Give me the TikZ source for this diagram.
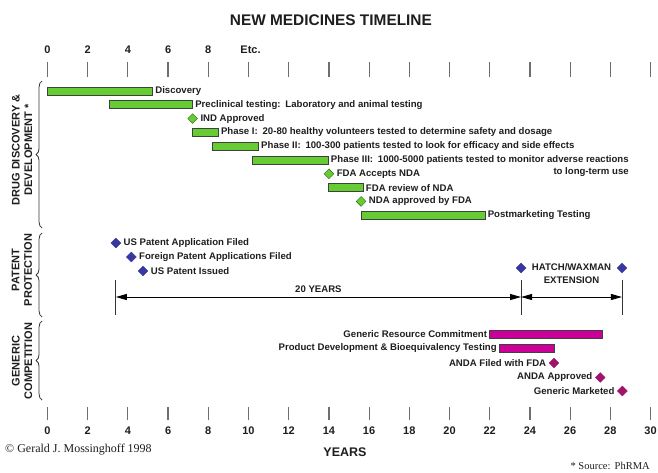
\documentclass[tikz,border=0pt]{standalone}
\usepackage{fontspec}
\setmainfont{Liberation Sans}
\newfontfamily\romana{Liberation Serif}
\usetikzlibrary{positioning,arrows.meta,shapes.geometric,decorations.pathreplacing}
\definecolor{verde}{RGB}{102,204,51}
\definecolor{bordeverde}{RGB}{50,100,30}
\definecolor{azul}{RGB}{55,55,160}
\definecolor{fucsia}{RGB}{204,0,153}
\definecolor{morado}{RGB}{160,20,110}
\definecolor{gristick}{RGB}{110,110,110}
\definecolor{texto}{RGB}{30,30,30}

\begin{document}
\begin{tikzpicture}[
  x=20.1pt, y=-1pt,
  font=\bfseries\fontsize{9.6}{11}\selectfont, text=texto,
  barra/.style={draw=black!75, line width=0.8pt, fill=verde},
  barrag/.style={draw=black!75, line width=0.8pt, fill=fucsia},
  rombo/.style={diamond, draw=bordeverde, fill=verde, inner sep=0pt,
                minimum size=10pt},
  rombop/.style={rombo, draw=azul, fill=azul},
  rombog/.style={rombo, draw=morado, fill=morado},
  rotulo/.style={anchor=west, inner sep=2.5pt},
  rotuloi/.style={anchor=east, inner sep=2.5pt},
  marca/.style={draw=gristick, line width=1.2pt},
  numero/.style={font=\bfseries\fontsize{11}{12}\selectfont},
  seccion/.style={rotate=90, align=center,
                  font=\bfseries\fontsize{11}{12.5}\selectfont},
  llave/.style={decorate, decoration={brace, amplitude=6pt},
                draw=black!80, line width=0.8pt},
  flecha/.style={{Triangle[length=11pt,width=6pt]}-{Triangle[length=11pt,width=6pt]},
                 line width=0.9pt},
  tope/.style={draw=black!80, line width=0.9pt},
]
\useasboundingbox (-2.363,0) rectangle (30.373,472);
% --- Titulo y ejes ---------------------------------------------------------
\node[font=\bfseries\fontsize{15.4}{17}\selectfont] (titulo) at (14.1,20)
  {NEW MEDICINES TIMELINE};
\foreach \t in {0,2,...,30} {
  \draw[marca] (\t,62) -- (\t,77);
  \draw[marca] (\t,407) -- (\t,420);
  \node[numero] (abajo\t) at (\t,431) {\t};
}
\foreach \t in {0,2,4,6,8}
  \node[numero] (arriba\t) at (\t,50) {\t};
\node[numero] (etc) at (10.1,50) {Etc.};
\node[font=\bfseries\fontsize{12.5}{14}\selectfont] (anos) at (14.8,452) {YEARS};
% --- Desarrollo del medicamento ---------------------------------------------
\foreach \a/\b/\fila/\txt in {
  0/5.23/0/Discovery,
  3.1/7.22/1/{Preclinical testing:\hspace{0.5em}Laboratory and animal testing},
  7.22/8.5/3/{Phase I:\hspace{0.5em}20-80 healthy volunteers tested to determine safety and dosage},
  8.2/10.5/4/{Phase II:\hspace{0.5em}100-300 patients tested to look for efficacy and side effects},
  10.2/13.97/5/{Phase III:\hspace{0.5em}1000-5000 patients tested to monitor adverse reactions},
  13.97/15.71/7/FDA review of NDA,
  15.6/21.77/9/Postmarketing Testing} {
  \draw[barra] (\a,91+13.8*\fila-4) rectangle (\b,91+13.8*\fila+4);
  \node[rotulo] (fase\fila) at (\b,91+13.8*\fila) {\txt};
}
\node[anchor=east, inner sep=2.5pt] (fase5b) at ([yshift=-12.5pt]fase5.east)
  {to long-term use};
\foreach \x/\fila/\txt in {7.22/2/IND Approved, 14/6/FDA Accepts NDA,
                           15.6/8/NDA approved by FDA} {
  \node[rombo] (hito\fila) at (\x,91+13.8*\fila) {};
  \node[rotulo] (fase\fila) at (hito\fila.east) {\txt};
}
% --- Proteccion de patente ---------------------------------------------------
\foreach \x/\y/\nom/\txt in {3.4/243/solus/US Patent Application Filed,
                             4.17/257/solext/Foreign Patent Applications Filed,
                             4.75/271/patus/US Patent Issued} {
  \node[rombop] (\nom) at (\x,\y) {};
  \node[rotulo] (t\nom) at (\nom.east) {\txt};
}
\node[rombop] (hw1) at (23.56,268) {};
\node[rombop] (hw2) at (28.58,268) {};
\node[align=center, inner sep=0pt, font=\bfseries\fontsize{9.6}{13}\selectfont]
  (hatch) at (26.07,273.5) {HATCH/WAXMAN\\EXTENSION};
\foreach \x in {3.4,23.56,28.58}
  \draw[tope] (\x,280) -- (\x,315);
\coordinate (ini) at (3.4,297);
\coordinate (fin) at (23.56,297);
\coordinate (ext) at (28.58,297);
\draw[flecha] (ini) -- node[above, inner sep=3.5pt] (veinte) {20 YEARS} (fin);
\draw[flecha] (fin) -- (ext);
% --- Competencia generica ------------------------------------------------------
\foreach \a/\b/\y/\txt [count=\i] in {
  22/27.6/334/Generic Resource Commitment,
  22.48/25.2/348.5/Product Development \& Bioequivalency Testing} {
  \draw[barrag] (\a,\y-4) rectangle (\b,\y+4);
  \node[rotuloi] (gen\i) at (\a,\y) {\txt};
}
\foreach \x/\y/\txt [count=\i] in {25.2/363/ANDA Filed with FDA,
                                  27.5/377.5/ANDA Approved,
                                  28.6/391/Generic Marketed} {
  \node[rombog] (anda\i) at (\x,\y) {};
  \node[rotuloi] (tanda\i) at (anda\i.west) {\txt};
}
% --- Llaves y secciones ----------------------------------------------------------
\draw[llave] (-0.27,228) -- (-0.27,81);
\draw[llave] (-0.27,317) -- (-0.27,233);
\draw[llave] (-0.27,400) -- (-0.27,321);
\node[seccion] (sec1) at (-1.27,150) {DRUG DISCOVERY \&\\DEVELOPMENT *};
\node[seccion] (sec2) at (-1.27,270) {PATENT\\PROTECTION};
\node[seccion] (sec3) at (-1.27,361) {GENERIC\\COMPETITION};
% --- Pie ------------------------------------------------------------------------
\node[anchor=west, inner sep=0pt, font=\romana\fontsize{12}{13}\selectfont]
  (autor) at (-2.114,450) {\textcopyright\ Gerald J. Mossinghoff 1998};
\node[anchor=east, inner sep=0pt, font=\romana\fontsize{10.5}{11}\selectfont]
  (fuente) at (29.97,466) {* Source:\hspace{0.4em}PhRMA};
\end{tikzpicture}
\end{document}
